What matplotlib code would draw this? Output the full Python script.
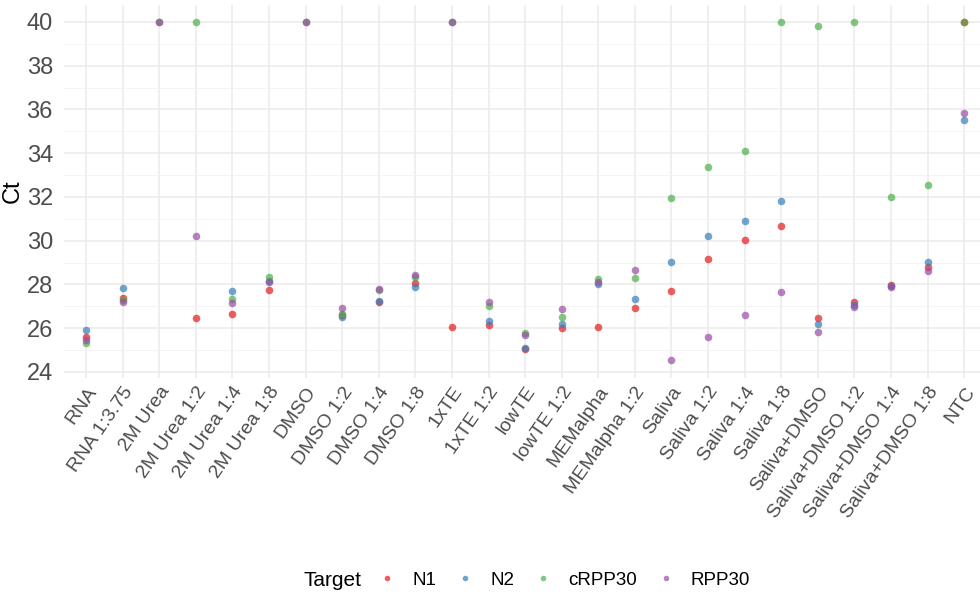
import matplotlib.pyplot as plt
import matplotlib.lines as mlines
import numpy as np

plt.rcParams['font.family'] = ['Liberation Sans', 'DejaVu Sans']

samples = ["RNA", "RNA 1:3.75", "2M Urea", "2M Urea 1:2", "2M Urea 1:4", "2M Urea 1:8",
           "DMSO", "DMSO 1:2", "DMSO 1:4", "DMSO 1:8", "1xTE", "1xTE 1:2",
           "lowTE", "lowTE 1:2", "MEMalpha", "MEMalpha 1:2", "Saliva", "Saliva 1:2",
           "Saliva 1:4", "Saliva 1:8", "Saliva+DMSO", "Saliva+DMSO 1:2",
           "Saliva+DMSO 1:4", "Saliva+DMSO 1:8", "NTC"]

nan = np.nan
ct_n1 = [25.6, 27.4, nan, 26.45, 26.65, 27.76, nan, 26.6, 27.22, 28.05, 26.06, 26.17,
         25.05, 25.99, 26.06, 26.91, 27.7, 29.16, 30.03, 30.67, 26.46, 27.2,
         27.99, 28.82, 40.0]
ct_n2 = [25.93, 27.85, nan, nan, 27.7, 28.15, nan, 26.51, 27.25, 27.88, nan, 26.32,
         25.08, 26.19, 28.02, 27.32, 29.02, 30.21, 30.88, 31.8, 26.19, 27.05,
         27.92, 29.05, 35.5]
ct_crpp30 = [25.31, 27.3, 40.0, 40.0, 27.33, 28.34, 40.0, 26.63, 27.75, 28.35, 40.0, 27.03,
             25.76, 26.52, 28.24, 28.31, 31.94, 33.39, 34.11, 40.0, 39.82, 40.0,
             32.0, 32.53, 40.0]
ct_rpp30 = [25.45, 27.21, 40.0, 30.21, 27.15, 28.1, 40.0, 26.93, 27.78, 28.43, 40.0, 27.2,
            25.67, 26.86, 28.13, 28.65, 24.53, 25.59, 26.59, 27.64, 25.85, 26.98,
            27.9, 28.62, 35.84]

targets = ["N1", "N2", "cRPP30", "RPP30"]
colors = ["#E41A1C", "#377EB8", "#4DAF4A", "#984EA3"]
series = [ct_n1, ct_n2, ct_crpp30, ct_rpp30]

fig = plt.figure(figsize=(9.8, 5.93), dpi=100)
ax = fig.add_axes([64 / 980, 1 - 378 / 593, 1 - 64 / 980, (378 - 5) / 593])

x = np.arange(len(samples))
for vals, col in zip(series, colors):
    ax.scatter(x, vals, s=30, color=col, alpha=0.7, linewidths=0, zorder=3)

ax.set_xlim(-0.6, 24.43)
ax.set_ylim(23.725, 40.775)
ax.set_yticks(np.arange(24, 41, 2))
ax.set_yticks(np.arange(25, 41, 2), minor=True)
ax.set_xticks(x)
ax.set_xticklabels(samples, rotation=55, ha="right", va="top", rotation_mode="anchor")

ax.grid(True, which="major", color="#EBEBEB", linewidth=1.1, zorder=0)
ax.grid(True, which="minor", axis="y", color="#F2F2F2", linewidth=0.6, zorder=0)
ax.set_axisbelow(True)
for s in ax.spines.values():
    s.set_visible(False)
ax.tick_params(axis="both", which="both", length=0, colors="#4D4D4D")
ax.tick_params(axis="x", labelsize=14, pad=4)
ax.tick_params(axis="y", labelsize=17, pad=8)
ax.set_ylabel("Ct", fontsize=17, color="black", labelpad=2)

handles = [mlines.Line2D([], [], linestyle="none", marker="o", markersize=4,
                         color=c, alpha=0.7, markeredgewidth=0) for c in colors]
fig.text(303 / 980, 1 - 580 / 593, "Target", fontsize=15, va="center", ha="left")
fig.legend(handles, targets, loc="center", bbox_to_anchor=(564 / 980, 1 - 580 / 593),
           ncol=4, frameon=False, fontsize=13.5, handletextpad=0.83, columnspacing=1.05,
           handlelength=1.0, borderpad=0)

fig.savefig("out.png", dpi=100)
